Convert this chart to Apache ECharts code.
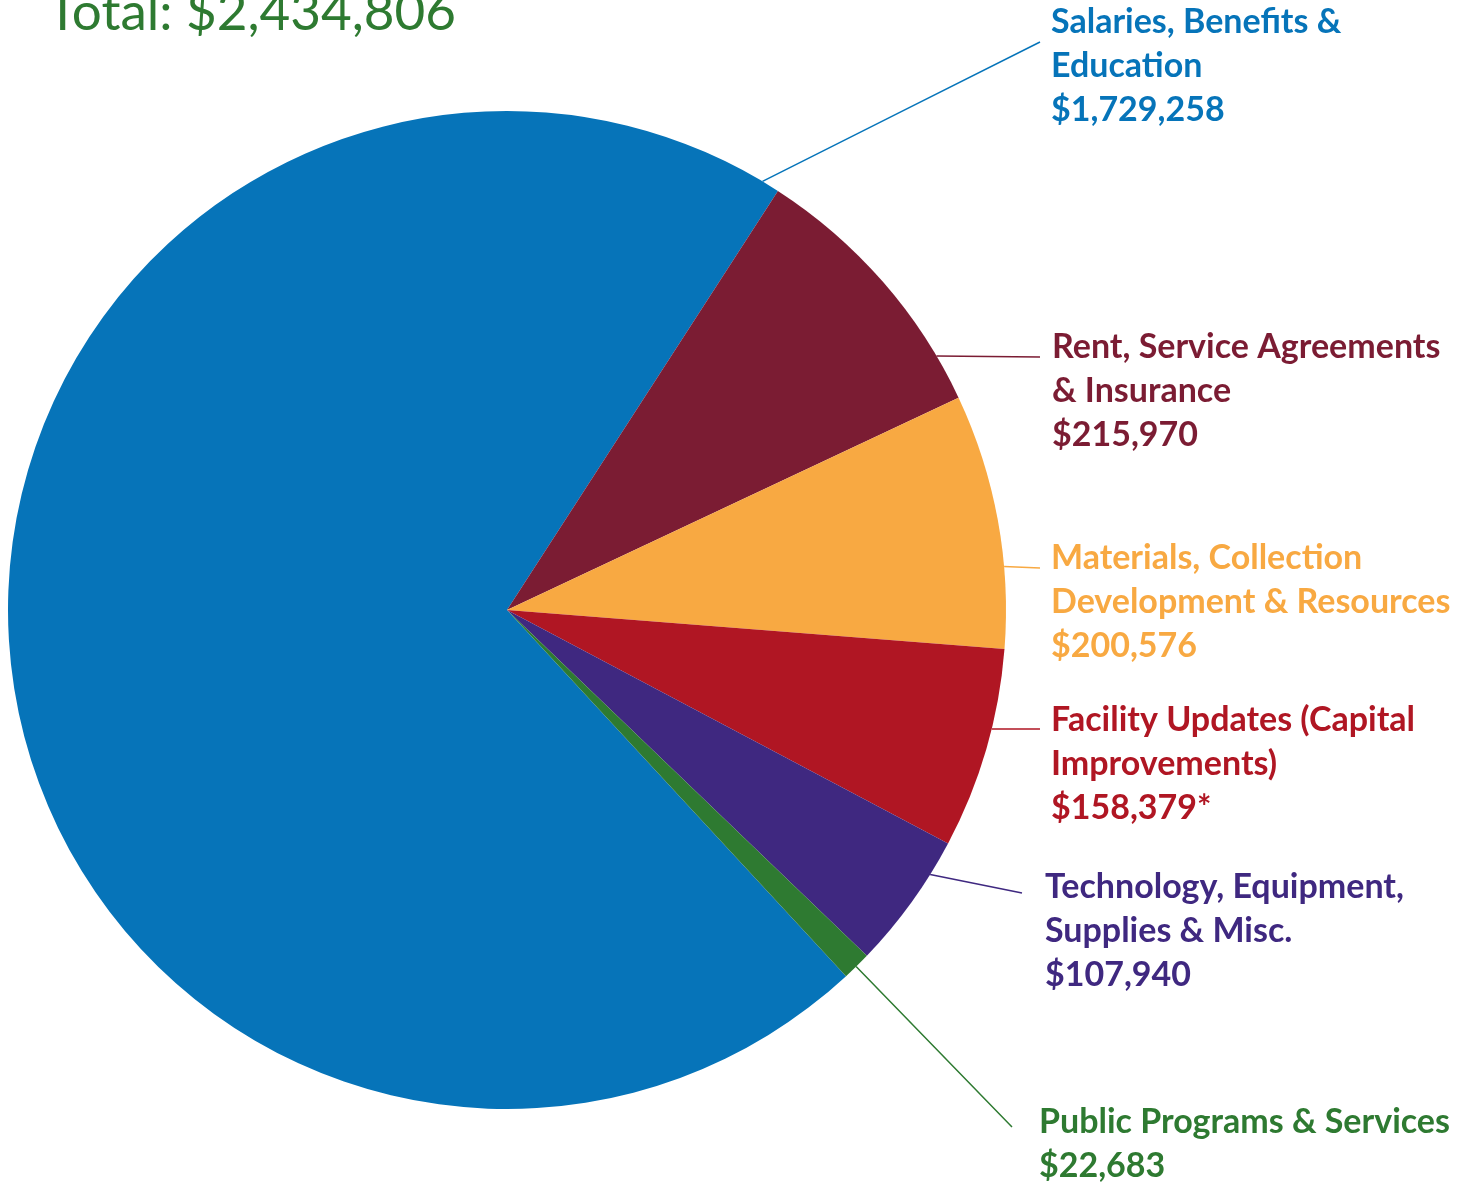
<!DOCTYPE html>
<html>
<head>
<meta charset="utf-8">
<script src="https://cdn.jsdelivr.net/npm/echarts@6/dist/echarts.min.js"></script>
<style>
  html, body { margin: 0; padding: 0; background: #fff; }
  #budgetPie { width: 1466px; height: 1183px; }
</style>
</head>
<body>
<div id="budgetPie"></div>
<script>
// data
const categories = [
  "Salaries, Benefits &\nEducation",
  "Rent, Service Agreements\n& Insurance",
  "Materials, Collection\nDevelopment & Resources",
  "Facility Updates (Capital\nImprovements)",
  "Technology, Equipment,\nSupplies & Misc.",
  "Public Programs & Services"
]
const amounts = [1729258, 215970, 200576, 158379, 107940, 22683]
const amountSuffix = ["", "", "", "*", "", ""]
const colors = ["#0674b9", "#7b1c33", "#f8a942", "#b01623", "#3f2880", "#2e7a31"]

// layout of the labels (top-left of text block) and leader lines
const center = [507, 610]
const radius = 499
const labelPos = [[1051, 0], [1052, 325], [1051, 536], [1051, 698], [1045, 865], [1039, 1100]]
const lineStartDeg = [30.8, 59.4, 85, 103.8, 122, 135.6] // clockwise from 12 o'clock
const lineEnd = [[1040, 42], [1040, 357], [1040, 568], [1040, 729], [1022, 893], [1012, 1127]]

const total = amounts.reduce((a, b) => a + b, 0)

function money(v) {
  return "$" + v.toString().replace(/\B(?=(\d{3})+(?!\d))/g, ",")
}

const chart = echarts.init(document.getElementById("budgetPie"))

const option = {
  animation: false,
  title: {
    text: "Total: " + money(total),
    left: 42,
    top: -19,
    textStyle: {
      color: "#2e7a31",
      fontFamily: "Lato",
      fontWeight: "normal",
      fontSize: 53
    }
  },
  series: [
    {
      type: "pie",
      center: center,
      radius: radius,
      startAngle: 90 - 137.2,
      clockwise: true,
      avoidLabelOverlap: false,
      data: categories.map((name, i) => ({
        name: name,
        value: amounts[i],
        itemStyle: { color: colors[i] },
        label: { color: colors[i] },
        labelLine: { lineStyle: { color: colors[i] } }
      })),
      label: {
        show: true,
        position: "outside",
        fontFamily: "Lato",
        fontWeight: "bold",
        fontSize: 34,
        lineHeight: 44,
        formatter: function(p) {
          return p.name + "\n" + money(p.value) + amountSuffix[p.dataIndex]
        }
      },
      labelLine: {
        show: true,
        lineStyle: { width: 1.5 }
      },
      labelLayout: function(params) {
        const i = params.dataIndex
        const a = lineStartDeg[i] * Math.PI / 180
        const start = [center[0] + radius * Math.sin(a), center[1] - radius * Math.cos(a)]
        const end = lineEnd[i]
        return {
          x: labelPos[i][0],
          y: labelPos[i][1],
          align: "left",
          verticalAlign: "top",
          labelLinePoints: [start, [(start[0] + end[0]) / 2, (start[1] + end[1]) / 2], end]
        }
      },
      emphasis: { disabled: true }
    }
  ]
}

chart.setOption(option)
</script>
</body>
</html>
